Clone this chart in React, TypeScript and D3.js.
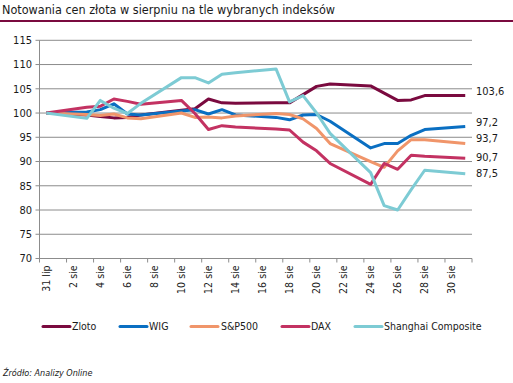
import React from "react";
import * as d3 from "d3";

const W = 513;
const H = 383;

const titleText = "Notowania cen złota w sierpniu na tle wybranych indeksów";
const sourceText = "Źródło: Analizy Online";

// day offsets from 31 lip (31 July)
const days = [0, 3, 4, 5, 6, 7, 10, 11, 12, 13, 14, 17, 18, 19, 20, 21, 24, 25, 26, 27, 28, 31];

const seriesNames = ["Zloto", "WIG", "S&P500", "DAX", "Shanghai Composite"];
const seriesColors = ["#7a0a3f", "#0a6fc2", "#f0956a", "#c33262", "#7dcbd4"];

const zloto = [100, 99.6, 99.3, 99.0, 99.1, 99.6, 100.6, 100.9, 102.9, 102.1, 102.0, 102.1, 102.1, 103.8, 105.5, 106.0, 105.6, 104.1, 102.6, 102.7, 103.6, 103.6];
const wig = [100, 100.2, 100.7, 101.9, 99.8, 99.6, 100.4, 100.7, 99.8, 100.7, 99.6, 99.1, 98.6, 99.6, 99.7, 98.3, 92.8, 93.7, 93.7, 95.4, 96.6, 97.2];
const sp500 = [100, 99.7, 99.5, 99.8, 99.0, 98.8, 100.0, 99.1, 99.2, 99.0, 99.4, 99.9, 99.7, 98.8, 96.8, 93.7, 90.0, 88.8, 92.2, 94.5, 94.5, 93.7];
const dax = [100, 101.2, 101.4, 102.9, 102.4, 101.8, 102.6, 99.9, 96.6, 97.4, 97.1, 96.7, 96.5, 94.0, 92.2, 89.6, 85.3, 89.6, 88.4, 91.3, 91.1, 90.7];
const shanghai = [100, 98.9, 102.6, 101.0, 99.9, 102.0, 107.3, 107.3, 106.2, 108.0, 108.3, 109.1, 102.3, 103.6, 100.0, 95.8, 87.7, 80.9, 80.0, 84.2, 88.2, 87.5];

const allSeries = [zloto, wig, sp500, dax, shanghai];
const endLabels = ["103,6", "97,2", "93,7", "90,7", "87,5"];
const endLabelShift = [-4, -4, -5, -1, 0];

const yTicks = [70, 75, 80, 85, 90, 95, 100, 105, 110, 115];
const xTickDays = [0, 2, 4, 6, 8, 10, 12, 14, 16, 18, 20, 22, 24, 26, 28, 30];
const xTickLabels = ["31 lip", "2 sie", "4 sie", "6 sie", "8 sie", "10 sie", "12 sie", "14 sie", "16 sie", "18 sie", "20 sie", "22 sie", "24 sie", "26 sie", "28 sie", "30 sie"];

const FONT = "'DejaVu Sans Condensed', 'DejaVu Sans', sans-serif";

export default function App() {
  const plotLeft = 39.5;
  const plotRight = 472;
  const plotTop = 40.3;
  const plotBottom = 258.5;

  const x = d3.scaleLinear().domain([-0.5, 31.5]).range([plotLeft, plotRight]);
  const y = d3.scaleLinear().domain([70, 115]).range([plotBottom, plotTop]);

  const line = d3
    .line<number>()
    .x((_, i) => x(days[i]))
    .y((v) => y(v));

  const boundaries = d3.range(0, 17).map((k) => -0.5 + 2 * k);
  const gridColor = "#8c8c8c";

  const legendItems = [
    { lx: 43, tx: 72 },
    { lx: 120, tx: 149 },
    { lx: 191, tx: 221 },
    { lx: 282, tx: 311 },
    { lx: 355, tx: 384 },
  ];

  return (
    <svg
      width={W}
      height={H}
      style={{ position: "absolute", left: 0, top: 0, background: "#fff" }}
      fontFamily={FONT}
    >
      <text x={2} y={14} fontSize={12.5} fill="#1a1a1a">
        {titleText}
      </text>
      <rect x={0} y={20} width={W} height={2} fill="#7a0a3f" />

      {/* gridlines */}
      {yTicks.map((t) => (
        <line
          key={"g" + t}
          x1={plotLeft - 4}
          x2={plotRight}
          y1={y(t)}
          y2={y(t)}
          stroke={gridColor}
          strokeWidth={1}
        />
      ))}
      {/* y axis */}
      <line x1={plotLeft} x2={plotLeft} y1={plotTop} y2={plotBottom} stroke={gridColor} strokeWidth={1} />
      {yTicks.map((t) => (
        <text
          key={"yl" + t}
          x={32}
          y={y(t)}
          dy="0.35em"
          textAnchor="end"
          fontSize={11}
          fill="#1a1a1a"
        >
          {t}
        </text>
      ))}
      {/* x ticks */}
      {boundaries.map((b) => (
        <line
          key={"xt" + b}
          x1={x(b)}
          x2={x(b)}
          y1={plotBottom}
          y2={plotBottom + 4}
          stroke={gridColor}
          strokeWidth={1}
        />
      ))}
      {xTickDays.map((d, i) => (
        <text
          key={"xl" + d}
          transform={`translate(${x(d) + 3.5},${plotBottom + 7}) rotate(-90)`}
          textAnchor="end"
          fontSize={10.5}
          fill="#1a1a1a"
        >
          {xTickLabels[i]}
        </text>
      ))}

      {/* series lines */}
      {allSeries.map((s, i) => (
        <path
          key={"s" + i}
          d={line(s) || ""}
          fill="none"
          stroke={seriesColors[i]}
          strokeWidth={3}
          strokeLinejoin="round"
        />
      ))}

      {/* end labels */}
      {allSeries.map((s, i) => (
        <text
          key={"el" + i}
          x={476}
          y={y(s[s.length - 1]) + endLabelShift[i]}
          dy="0.35em"
          fontSize={11}
          fill="#1a1a1a"
        >
          {endLabels[i]}
        </text>
      ))}

      {/* legend */}
      {legendItems.map((it, i) => (
        <g key={"lg" + i}>
          <line
            x1={it.lx}
            x2={it.lx + 27}
            y1={326.5}
            y2={326.5}
            stroke={seriesColors[i]}
            strokeWidth={3}
            strokeLinecap="round"
          />
          <text x={it.tx} y={326.5} dy="0.35em" fontSize={10.5} fill="#1a1a1a">
            {seriesNames[i]}
          </text>
        </g>
      ))}

      <text x={3} y={376} fontSize={9} fontStyle="italic" fill="#1a1a1a">
        {sourceText}
      </text>
    </svg>
  );
}
